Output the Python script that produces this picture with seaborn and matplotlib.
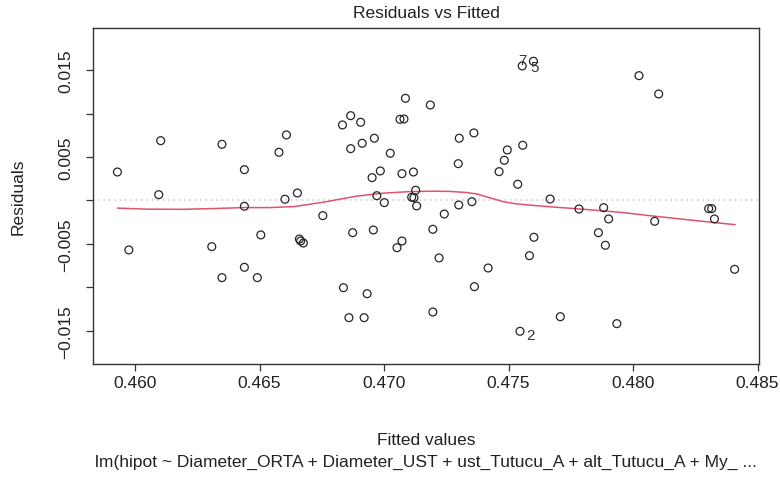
import numpy as np
import pandas as pd
import matplotlib
matplotlib.use("Agg")
import matplotlib.pyplot as plt
import seaborn as sns

# ---- data ----
fitted = [
    0.45929, 0.46103, 0.46095, 0.46349, 0.46439, 0.46578, 0.46608, 0.46652, 0.46602, 0.46833,
    0.46866, 0.46906, 0.46866, 0.46912, 0.46961, 0.47025, 0.46952, 0.46985, 0.47072, 0.47118,
    0.47086, 0.47064, 0.47080, 0.47186, 0.47127, 0.46971, 0.47111, 0.47120, 0.47302, 0.47361,
    0.47298, 0.47557, 0.47495, 0.47483, 0.47462, 0.47537, 0.47667, 0.47555, 0.47600, 0.48024,
    0.48103, 0.45975, 0.46308, 0.46349, 0.46439, 0.46439, 0.46491, 0.46505, 0.46660, 0.46665,
    0.46676, 0.46754, 0.46874, 0.46957, 0.46837, 0.46932, 0.46859, 0.46920, 0.47001, 0.47072,
    0.47052, 0.47131, 0.47196, 0.47196, 0.47242, 0.47300, 0.47353, 0.47221, 0.47418, 0.47363,
    0.47602, 0.47584, 0.47546, 0.47708, 0.47783, 0.47882, 0.47902, 0.47861, 0.47889, 0.47935,
    0.48087, 0.48304, 0.48316, 0.48327, 0.48408,
]
residuals = [
    0.00328, 0.00689, 0.00067, 0.00647, 0.00355, 0.00555, 0.00755, 0.00086, 0.00014, 0.00870,
    0.00977, 0.00901, 0.00597, 0.00659, 0.00717, 0.00544, 0.00263, 0.00340, 0.00309, 0.00328,
    0.01177, 0.00935, 0.00939, 0.01100, 0.00118, 0.00055, 0.00037, 0.00032, 0.00717, 0.00778,
    0.00424, 0.00636, 0.00582, 0.00463, 0.00332, 0.00187, 0.00017, 0.01550, 0.01604, 0.01438,
    0.01227, -0.00570, -0.00532, -0.00889, -0.00067, -0.00770, -0.00889, -0.00397, -0.00444, -0.00467,
    -0.00490, -0.00175, -0.00371, -0.00340, -0.01005, -0.01074, -0.01350, -0.01350, -0.00025, -0.00467,
    -0.00544, -0.00063, -0.00332, -0.01285, -0.00156, -0.00052, -0.00014, -0.00662, -0.00778, -0.00993,
    -0.00424, -0.00636, -0.01507, -0.01339, -0.00098, -0.00083, -0.00213, -0.00371, -0.00516, -0.01419,
    -0.00240, -0.00094, -0.00094, -0.00213, -0.00793,
]

# smoother (red line)
smooth_x = [0.45929, 0.46050, 0.46194, 0.46330, 0.46434, 0.46540, 0.46640, 0.46756, 0.46890,
            0.47000, 0.47104, 0.47200, 0.47265, 0.47330, 0.47372, 0.47426, 0.47480, 0.47533,
            0.47613, 0.47700, 0.47787, 0.47948, 0.48082, 0.48216, 0.48410]
smooth_y = [-0.00088, -0.00100, -0.00102, -0.00092, -0.00082, -0.00082, -0.00070, -0.00020, 0.00050,
            0.00085, 0.00102, 0.00107, 0.00104, 0.00092, 0.00075, 0.00030, -0.00015, -0.00040,
            -0.00060, -0.00080, -0.00098, -0.00136, -0.00180, -0.00221, -0.00279]

# labelled extreme points
id_labels = ["7", "5", "2"]
id_x = [0.47600, 0.47555, 0.47546]
id_y = [0.01604, 0.01550, -0.01507]

x_ticks = [0.460, 0.465, 0.470, 0.475, 0.480, 0.485]
x_tick_labels = ["0.460", "0.465", "0.470", "0.475", "0.480", "0.485"]
y_ticks = [-0.015, -0.010, -0.005, 0.000, 0.005, 0.010, 0.015]
y_tick_labels = ["\u22120.015", "", "\u22120.005", "", "0.005", "", "0.015"]

title = "Residuals vs Fitted"
x_label = "Fitted values"
y_label = "Residuals"
caption = "lm(hipot ~ Diameter_ORTA + Diameter_UST + ust_Tutucu_A + alt_Tutucu_A + My_ ..."

# ---- drawing ----
sns.set_theme(style="white")
plt.rcParams['font.family'] = ['Liberation Sans', 'DejaVu Sans']
FS = 12.5
TXT = "#222222"

W, H = 780, 481
fig = plt.figure(figsize=(W / 100, H / 100), dpi=100)
fig.patch.set_facecolor("white")
L, R, T, B = 93, 759, 29, 365
ax = fig.add_axes([L / W, 1 - B / H, (R - L) / W, (B - T) / H])

df = pd.DataFrame({"fitted": fitted, "resid": residuals})
ax.axhline(0, color="#c4c4c4", lw=1.1, ls=(0, (1, 2.5)), zorder=1)
sns.scatterplot(data=df, x="fitted", y="resid", ax=ax, marker="o", s=32,
                facecolors="none", edgecolor="#262626", linewidth=0.9, zorder=3)
sns.lineplot(x=smooth_x, y=smooth_y, ax=ax, color="#DF536B", lw=1.1,
             sort=False, estimator=None, zorder=2)

offsets = [(-7, 1), (8, -1.5), (6, -4)]
has = ["right", "left", "left"]
for lab, xx, yy, off, ha in zip(id_labels, id_x, id_y, offsets, has):
    ax.annotate(lab, (xx, yy), xytext=off, textcoords="offset pixels",
                ha=ha, va="center", fontsize=11, color="#333333")

ax.set_xlim(0.45831, 0.48506)
ax.set_ylim(-0.01884, 0.01987)
ax.set_xticks(x_ticks)
ax.set_xticklabels(x_tick_labels)
ax.set_yticks(y_ticks)
ax.set_yticklabels(y_tick_labels, rotation=90, va="center")
ax.set_xlabel("")
ax.set_ylabel("")

for s in ax.spines.values():
    s.set_visible(True)
    s.set_color("#333333")
    s.set_linewidth(1.0)

ax.tick_params(axis="both", which="both", bottom=True, left=True, direction="out",
               length=5.2, width=0.9, color="#333333", labelsize=FS, labelcolor=TXT)
ax.tick_params(axis="x", pad=2.5)
ax.tick_params(axis="y", pad=9)

cx = (L + R) / 2 / W
fig.text(cx, 1 - 14 / H, title, ha="center", va="center", fontsize=FS, color=TXT)
fig.text(cx, 1 - 441 / H, x_label, ha="center", va="center", fontsize=FS, color=TXT)
fig.text(cx, 1 - 462 / H, caption, ha="center", va="center", fontsize=FS, color=TXT)
fig.text(18 / W, 1 - 197 / H, y_label, ha="center", va="center", rotation=90,
         fontsize=FS, color=TXT)

fig.savefig("out.png", dpi=100)
